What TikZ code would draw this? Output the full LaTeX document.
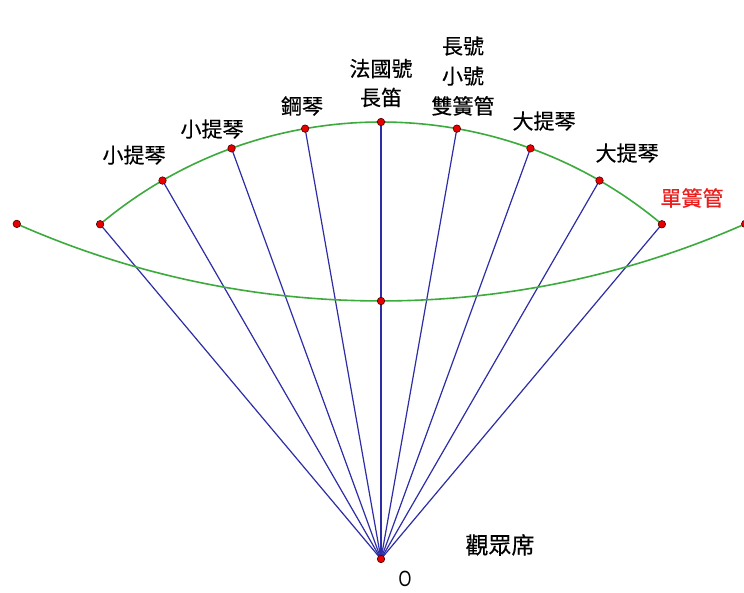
\documentclass[tikz,border=0pt]{standalone}
\usepackage{fontspec}
\setmainfont{Liberation Sans}
\newfontfamily\cjk[FakeBold=0.4]{Noto Sans CJK TC}
\definecolor{rayblue}{RGB}{45,45,165}
\definecolor{arcgreen}{RGB}{60,170,60}
\definecolor{dotred}{RGB}{230,0,0}
\definecolor{dotedge}{RGB}{80,0,0}
\definecolor{labred}{RGB}{235,30,30}
\begin{document}
\begin{tikzpicture}[x=1pt,y=-1pt,
  dot/.style={circle,fill=dotred,draw=dotedge,line width=0.6pt,inner sep=0pt,minimum size=7.5pt},
  ray/.style={draw=rayblue,line width=1.2pt},
  arcline/.style={draw=arcgreen,line width=1.6pt},
  lab/.style={font=\cjk\fontsize{21}{29}\selectfont,inner sep=0pt,align=center,text=black},
  redlab/.style={lab,text=labred}]
\useasboundingbox (0,0) rectangle (744,592);
\fill[white] (0,0) rectangle (744,592);
% centres
\coordinate (O) at (381,559);
\coordinate (C) at (381,-598);
% points on the upper arc (centred on O)
\foreach \a/\n in {-130/2,-120/3,-110/4,-100/5,-90/6,-80/7,-70/8,-60/9,-50/10}
  \coordinate (p\n) at ([shift={(\a:437)}]O);
% points on the lower arc
\coordinate (q1) at ([shift={(113.9:899)}]C);
\coordinate (q0) at ([shift={(90:899)}]C);
\coordinate (q2) at ([shift={(66.1:899)}]C);
% rays
\foreach \n in {2,...,10}
  \draw[ray] (O) -- (p\n);
% arcs
\draw[arcline] (p2) arc[start angle=-130,end angle=-50,radius=437];
\draw[arcline] (q1) arc[start angle=113.9,end angle=66.1,radius=899];
% dots
\foreach \n in {2,...,10}
  \node[dot] (d\n) at (p\n) {};
\node[dot] (dq1) at (q1) {};
\node[dot] (dq0) at (q0) {};
\node[dot] (dq2) at (q2) {};
\node[dot] (dO) at (O) {};
% labels
\node[lab] (l3) at (134,155) {小提琴};
\node[lab] (l4) at (212,129) {小提琴};
\node[lab] (l5) at (302,106) {鋼琴};
\node[lab] (l6) at (381,83) {法國號\\長笛};
\node[lab,font=\cjk\fontsize{21}{30}\selectfont] (l7) at (463,76) {長號\\小號\\雙簧管};
\node[lab] (l8) at (544,121) {大提琴};
\node[lab] (l9) at (627,153) {大提琴};
\node[redlab] (l10) at (692,198) {單簧管};
\node[lab,font=\cjk\fontsize{23}{29}\selectfont] (aud) at (500,545) {觀眾席};
\node[inner sep=0pt,font=\fontsize{22}{26}\selectfont] (lO) at (405,579) {\scalebox{0.75}[1]{O}};
\end{tikzpicture}
\end{document}
